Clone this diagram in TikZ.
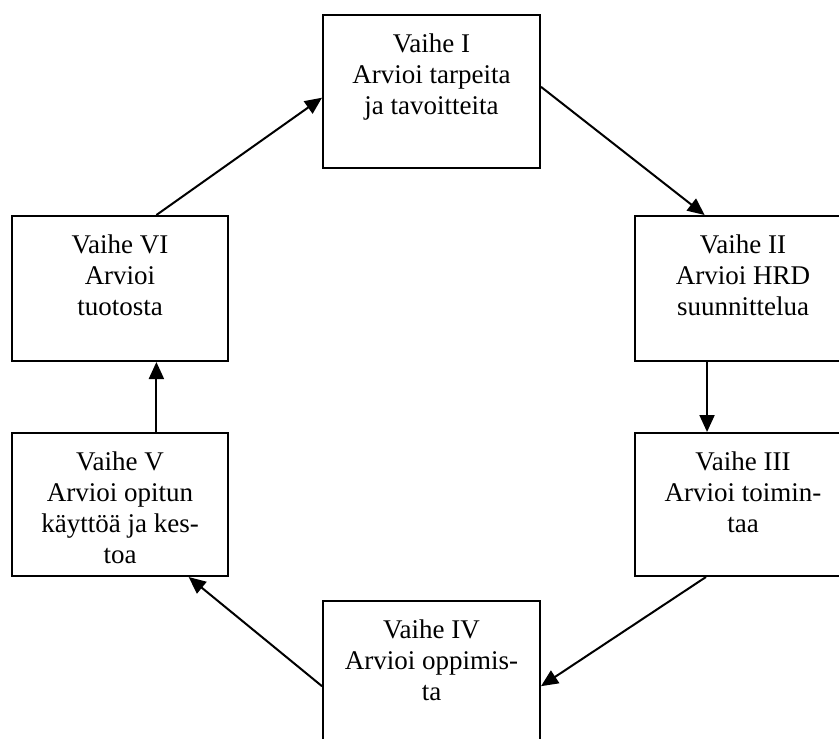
\documentclass[tikz,border=0pt]{standalone}
\usepackage{fontspec}
\setmainfont{Liberation Serif}
\usetikzlibrary{calc,arrows.meta}
\begin{document}
\begin{tikzpicture}[x=0.5pt,y=-0.5pt,
  stage/.style={draw,line width=1pt,minimum width=108pt,inner sep=0pt},
  caption/.style={anchor=north,align=center,inner sep=0pt,
    font=\fontsize{13.5}{15.5}\selectfont},
  flow/.style={line width=1pt,-{Triangle[length=8.5pt,width=7.5pt]}}]
\useasboundingbox (0,0) rectangle (839,738);

% the six evaluation stages
\node[stage,minimum width=108.5pt,minimum height=76.5pt] (b1) at (431.5,91.5) {};
\node[stage,minimum height=72.5pt] (b2) at (743,288.5) {};
\node[stage,minimum height=71.5pt] (b3) at (743,504.5) {};
\node[stage,minimum width=108.5pt,minimum height=75pt] (b4) at (431.5,676) {};
\node[stage,minimum height=71.5pt] (b5) at (120,504.5) {};
\node[stage,minimum height=72.5pt] (b6) at (120,288.5) {};

% stage texts, set at the top of each box
\node[caption] (t1) at ($(b1.north)+(0,19)$) {Vaihe I\\Arvioi tarpeita\\ja tavoitteita};
\node[caption] (t2) at ($(b2.north)+(0,19)$) {Vaihe II\\Arvioi HRD\\suunnittelua};
\node[caption] (t3) at ($(b3.north)+(0,19)$) {Vaihe III\\Arvioi toimin-\\taa};
\node[caption] (t4) at ($(b4.north)+(0,19)$) {Vaihe IV\\Arvioi oppimis-\\ta};
\node[caption] (t5) at ($(b5.north)+(0,19)$) {Vaihe V\\Arvioi opitun\\käyttöä ja kes-\\toa};
\node[caption] (t6) at ($(b6.north)+(0,19)$) {Vaihe VI\\Arvioi\\tuotosta};

% the cycle
\draw[flow] ($(b1.north east)!0.47!(b1.south east)$) -- ($(b2.north west)!0.324!(b2.north east)$);
\draw[flow] ($(b2.south west)!0.335!(b2.south east)$) -- ($(b3.north west)!0.335!(b3.north east)$);
\draw[flow] ($(b3.south west)!0.33!(b3.south east)$) -- ($(b4.north east)!0.567!(b4.south east)$);
\draw[flow] ($(b4.north west)!0.567!(b4.south west)$) -- ($(b5.south west)!0.815!(b5.south east)$);
\draw[flow] ($(b5.north west)!0.667!(b5.north east)$) -- ($(b6.south west)!0.667!(b6.south east)$);
\draw[flow] ($(b6.north west)!0.667!(b6.north east)$) -- ($(b1.north west)!0.54!(b1.south west)$);
\end{tikzpicture}
\end{document}
